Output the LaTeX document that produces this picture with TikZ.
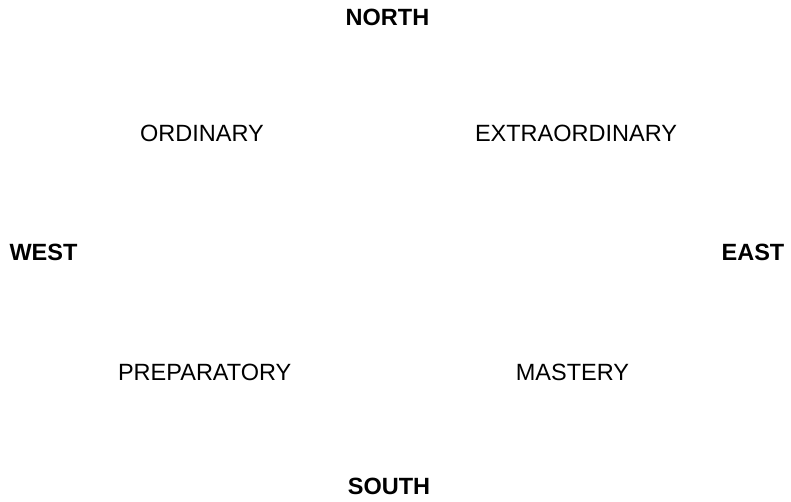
\documentclass[tikz,border=0pt]{standalone}
\usepackage{fontspec}
\setmainfont{Liberation Sans}
\begin{document}
\begin{tikzpicture}[x=1pt,y=1pt,
  lbl/.style={inner sep=0pt,anchor=base,font=\fontsize{23.5}{28}\selectfont},
  dir/.style={lbl,font=\fontsize{23.5}{28}\selectfont\bfseries}]
\useasboundingbox (0,0) rectangle (791,501);
\node[dir] (north) at (387.5,475.7) {NORTH};
\node[dir] (south) at (389,206.7-200) {SOUTH};
\node[dir] (west) at (43.5,240.3) {WEST};
\node[dir] (east) at (753,240.3) {EAST};
\node[lbl] (ordinary) at (202,359) {ORDINARY};
\node[lbl] (extra) at (576,359.5) {EXTRAORDINARY};
\node[lbl] (prep) at (204.7,120.3) {PREPARATORY};
\node[lbl] (mastery) at (572.5,120.3) {MASTERY};
\end{tikzpicture}
\end{document}
